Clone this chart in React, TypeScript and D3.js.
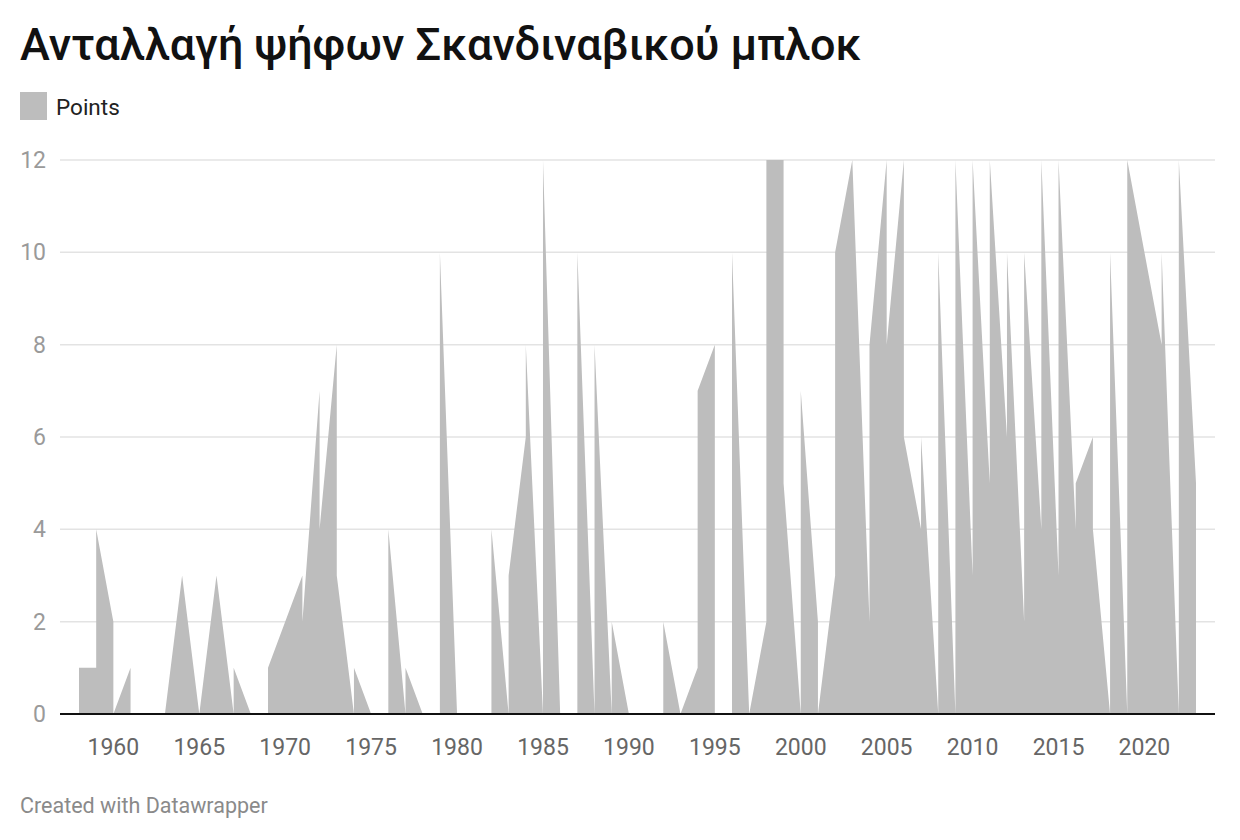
import React from 'react';
import * as d3 from 'd3';

// Points per contest year; a year listed twice draws a vertical jump
const years = [
  1958, 1959, 1959, 1960, 1960, 1961, 1961, 1962, 1963, 1964, 1965, 1966, 1967, 1967, 1968,
  1969, 1969, 1971, 1971, 1972, 1972, 1973, 1973, 1974, 1974, 1975, 1976, 1976, 1977, 1977,
  1978, 1979, 1979, 1980, 1981, 1982, 1982, 1983, 1983, 1984, 1984, 1985, 1985, 1986,
  1987, 1987, 1988, 1988, 1989, 1989, 1990, 1991, 1992, 1992, 1993, 1994, 1994, 1995, 1995,
  1996, 1996, 1997, 1998, 1998, 1999, 1999, 2000, 2000, 2001, 2001, 2002, 2002, 2003,
  2004, 2004, 2005, 2005, 2006, 2006, 2007, 2007, 2008, 2008, 2009, 2009, 2010, 2010,
  2011, 2011, 2012, 2012, 2013, 2013, 2014, 2014, 2015, 2015, 2016, 2016, 2017, 2017,
  2018, 2018, 2019, 2019, 2021, 2021, 2022, 2022, 2023,
];
const points = [
  1, 1, 4, 2, 0, 1, 0, 0, 0, 3, 0, 3, 0, 1, 0,
  0, 1, 3, 2, 7, 4, 8, 3, 0, 1, 0, 0, 4, 0, 1,
  0, 0, 10, 0, 0, 0, 4, 0, 3, 6, 8, 0, 12, 0,
  0, 10, 0, 8, 0, 2, 0, 0, 0, 2, 0, 1, 7, 8, 0,
  0, 10, 0, 2, 12, 12, 5, 0, 7, 2, 0, 3, 10, 12,
  2, 8, 12, 8, 12, 6, 4, 6, 0, 10, 0, 12, 3, 12,
  5, 12, 6, 10, 2, 10, 4, 12, 3, 12, 4, 5, 6, 4,
  0, 10, 0, 12, 8, 10, 0, 12, 5,
];
const yTicks = [0, 2, 4, 6, 8, 10, 12];
const xTicks = [1960, 1965, 1970, 1975, 1980, 1985, 1990, 1995, 2000, 2005, 2010, 2015, 2020];

const W = 1240;
const H = 840;
const font = 'Roboto, "Noto Sans", sans-serif';

export default function App() {
  const x = d3.scaleLinear().domain([1958, 2023]).range([79, 1196]);
  const y = d3.scaleLinear().domain([0, 12]).range([714, 160]);
  const data = years.map((yr, i) => ({ yr, v: points[i] }));
  const area = d3.area<{ yr: number; v: number }>()
    .x(d => x(d.yr))
    .y0(y(0))
    .y1(d => y(d.v));

  return (
    <svg width={W} height={H} style={{ position: 'absolute', left: 0, top: 0, background: '#fff' }} fontFamily={font}>
      <text x={20} y={60} fontSize={45} fontWeight={500} fill="#111">Ανταλλαγή ψήφων Σκανδιναβικού μπλοκ</text>
      <rect x={20} y={92} width={27} height={28} fill="#bdbdbd" />
      <text x={56} y={115} fontSize={22.5} fill="#222">Points</text>

      {yTicks.map(t => (
        <g key={t}>
          {t > 0 && <line x1={60} x2={1215} y1={y(t)} y2={y(t)} stroke="#e3e3e3" strokeWidth={1.5} />}
          <text x={46} y={y(t) + 8} textAnchor="end" fontSize={23} fill="#9a9a9a">{t}</text>
        </g>
      ))}

      <path d={area(data) ?? ''} fill="#bdbdbd" />
      <line x1={60} x2={1215} y1={y(0)} y2={y(0)} stroke="#111" strokeWidth={2} />

      {xTicks.map(t => (
        <text key={t} x={x(t)} y={755} textAnchor="middle" fontSize={23} fill="#666">{t}</text>
      ))}

      <text x={20} y={813} fontSize={21.5} fill="#8a8a8a">Created with Datawrapper</text>
    </svg>
  );
}
